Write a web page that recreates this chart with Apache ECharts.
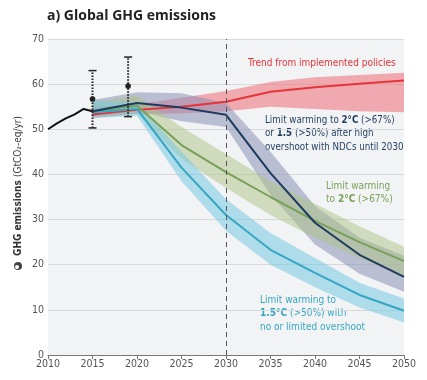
<!DOCTYPE html>
<html><head><meta charset="utf-8">
<script src="https://cdn.jsdelivr.net/npm/echarts@6/dist/echarts.min.js"></script>
<style>html,body{margin:0;padding:0;background:#fff}#c{width:427px;height:380px}</style>
</head><body><div id="c"></div>
<script>
var histYears = [2010, 2011, 2012, 2013, 2014, 2015];
var histValues = [50.0, 51.3, 52.4, 53.3, 54.5, 54.0];
var years = [2015, 2020, 2025, 2030, 2035, 2040, 2045, 2050];
var policyLine = [53.3, 54.3, 55.0, 56.1, 58.3, 59.3, 60.1, 60.8];
var policyLow  = [52.5, 53.4, 53.5, 54.0, 55.0, 54.5, 54.0, 53.8];
var policyHigh = [55.0, 55.5, 57.0, 58.5, 60.5, 61.5, 62.0, 62.5];
var ndcLine = [54.0, 55.8, 54.8, 53.2, 40.3, 29.3, 22.2, 17.3];
var ndcLow  = [52.8, 54.0, 51.8, 50.5, 35.5, 24.5, 18.0, 14.0];
var ndcHigh = [56.5, 58.2, 58.0, 55.8, 45.0, 33.0, 26.0, 22.0];
var c2Line = [54.0, 55.2, 46.5, 40.5, 35.0, 29.7, 25.0, 20.8];
var c2Low  = [52.8, 53.5, 43.5, 37.0, 31.0, 26.0, 21.5, 17.5];
var c2High = [56.0, 57.5, 50.5, 44.5, 38.5, 33.5, 28.5, 24.0];
var c15Line = [53.8, 54.5, 41.5, 31.0, 23.3, 18.2, 13.3, 9.8];
var c15Low  = [52.5, 53.0, 38.5, 27.5, 20.0, 15.0, 10.5, 7.2];
var c15High = [56.5, 56.0, 45.0, 34.5, 27.0, 21.5, 16.0, 12.5];
var errYears = [2015, 2019];
var errMid = [56.7, 59.6];
var errLow = [50.3, 52.8];
var errHigh = [63.0, 66.0];

var FONT = '"DejaVu Sans Condensed", "Liberation Sans Narrow", sans-serif';
function pairs(xs, ys){ return xs.map(function(x,i){ return [x, ys[i]]; }); }
function band(lo, hi, color){
  return {type:'custom', z:1, silent:true, clip:true,
    data:years.map(function(y,i){ return [y, lo[i], hi[i]]; }),
    renderItem:function(params, api){
      if (params.dataIndex !== 0) return null;
      var pts = [];
      for (var i=0;i<years.length;i++) pts.push(api.coord([years[i], hi[i]]));
      for (var j=years.length-1;j>=0;j--) pts.push(api.coord([years[j], lo[j]]));
      return {type:'polygon', shape:{points:pts}, style:{fill:color}};
    }};
}
function line(vals, color){
  return {type:'line', data:pairs(years, vals), symbol:'none', lineStyle:{color:color, width:2}, z:3};
}
var series = [
  band(policyLow, policyHigh, 'rgba(236,120,128,0.6)'),
  band(ndcLow, ndcHigh, 'rgba(140,146,182,0.55)'),
  band(c2Low, c2High, 'rgba(172,196,132,0.5)'),
  band(c15Low, c15High, 'rgba(120,200,225,0.55)'),
  line(policyLine, '#e63439'),
  line(c2Line, '#79a05a'),
  line(c15Line, '#35a6c2'),
  line(ndcLine, '#1c3b5e'),
  {type:'line', data:pairs(histYears, histValues), symbol:'none', lineStyle:{color:'#111', width:2}, z:4,
   markLine:{silent:true, symbol:'none', label:{show:false}, lineStyle:{color:'#555', type:[5,4], width:1},
     data:[{xAxis:2030}]}},
  {type:'custom', z:5, data:errYears.map(function(y,i){return [y, errMid[i], errLow[i], errHigh[i]];}),
   renderItem:function(params, api){
     var x = api.value(0);
     var pm = api.coord([x, api.value(1)]);
     var pl = api.coord([x, api.value(2)]);
     var ph = api.coord([x, api.value(3)]);
     var st = {stroke:'#222', lineWidth:1.5};
     return {type:'group', children:[
       {type:'line', shape:{x1:pl[0], y1:pl[1], x2:ph[0], y2:ph[1]}, style:{stroke:'#222', lineWidth:2, lineDash:[1.5,1.5]}},
       {type:'line', shape:{x1:pl[0]-4, y1:pl[1], x2:pl[0]+4, y2:pl[1]}, style:st},
       {type:'line', shape:{x1:ph[0]-4, y1:ph[1], x2:ph[0]+4, y2:ph[1]}, style:st},
       {type:'circle', shape:{cx:pm[0], cy:pm[1], r:2.8}, style:{fill:'#222'}}
     ]};
   }}
];
var chart = echarts.init(document.getElementById('c'));
chart.setOption({
  animation:false,
  title:{left:47, top:9, padding:0, text:'{n|a) }{b|Global GHG emissions}',
    textStyle:{rich:{n:{fontFamily:'"Open Sans", sans-serif', fontSize:14, color:'#222'},
                     b:{fontFamily:'"Open Sans", sans-serif', fontSize:14, fontWeight:'bold', color:'#222'}}}},
  grid:{left:48, right:23, top:39, bottom:25, show:true, backgroundColor:'#f2f3f4', borderWidth:0},
  xAxis:{type:'value', min:2010, max:2050, interval:5,
    axisLine:{show:true, lineStyle:{color:'#777'}}, axisTick:{show:true, length:4, lineStyle:{color:'#777'}},
    splitLine:{show:false},
    axisLabel:{color:'#555', fontFamily:FONT, fontSize:10.5, margin:4, formatter:function(v){return String(v);}}},
  yAxis:{type:'value', min:0, max:70, interval:10,
    axisLine:{show:false}, axisTick:{show:false},
    splitLine:{lineStyle:{color:'#d8d9db', width:1}},
    axisLabel:{color:'#555', fontFamily:FONT, fontSize:10.5, margin:4}},
  graphic:[
    {type:'text', x:18, y:186, rotation:Math.PI/2, style:{
      text:'{b|GHG emissions }{r|(GtCO\u2082-eq/yr)}', align:'center', verticalAlign:'middle',
      rich:{b:{fill:'#333', font:'bold 10px '+FONT}, r:{fill:'#444', font:'10px '+FONT}}}},
    {type:'circle', shape:{cx:18, cy:266, r:4}, style:{fill:'#444'}},
    {type:'circle', shape:{cx:17, cy:267, r:2}, style:{fill:'#fff'}},
    {type:'text', left:248, top:58, style:{text:'Trend from implemented policies', fill:'#e63439', font:'10px '+FONT}},
    {type:'text', left:265, top:115, style:{
      text:'{r|Limit warming to }{b|2°C}{r| (>67%)}\n{r|or }{b|1.5}{r| (>50%) after high}\n{r|overshoot with NDCs until 2030}',
      rich:{r:{fill:'#1c3b5e', font:'9.7px '+FONT, lineHeight:13.5}, b:{fill:'#1c3b5e', font:'bold 9.7px '+FONT, lineHeight:13.5}}}},
    {type:'text', left:326, top:181, style:{
      text:'{r|Limit warming}\n{r|to }{b|2°C}{r| (>67%)}',
      rich:{r:{fill:'#79a05a', font:'10px '+FONT, lineHeight:13.5}, b:{fill:'#79a05a', font:'bold 10px '+FONT, lineHeight:13.5}}}},
    {type:'text', left:260, top:295, style:{
      text:'{r|Limit warming to}\n{b|1.5°C}{r| (>50%) with}\n{r|no or limited overshoot}',
      rich:{r:{fill:'#35a6c2', font:'10px '+FONT, lineHeight:13.5}, b:{fill:'#35a6c2', font:'bold 10px '+FONT, lineHeight:13.5}}}}
  ],
  series:series
});
</script></body></html>
